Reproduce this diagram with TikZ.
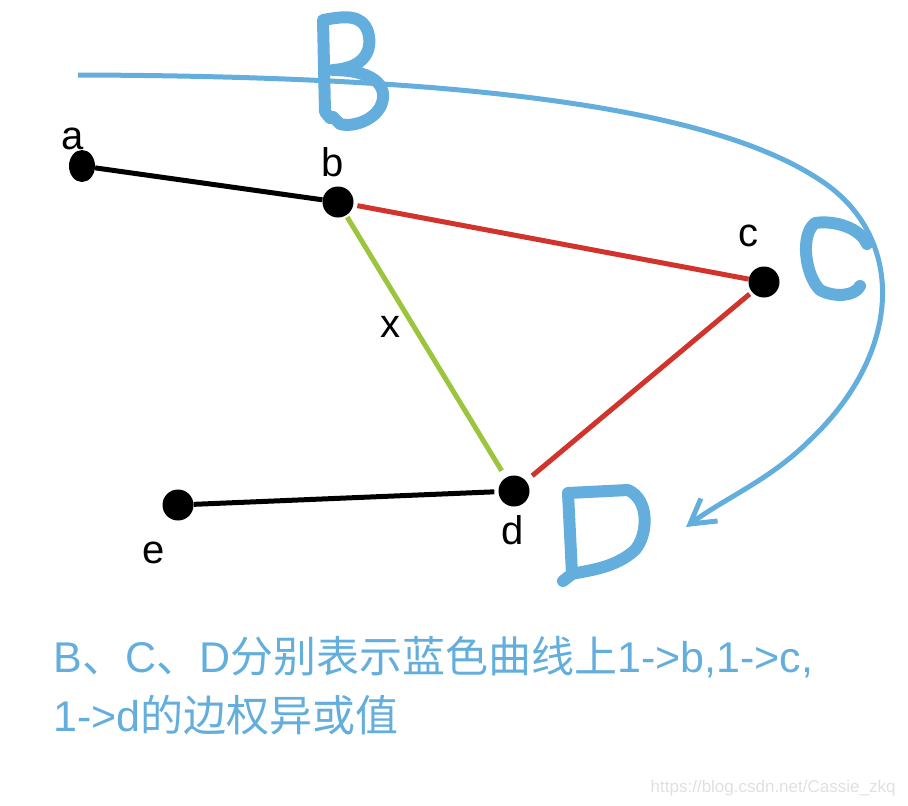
\documentclass[tikz,border=0pt]{standalone}
\usepackage{fontspec}
\setmainfont{Liberation Sans}
\newfontfamily\cjk{Noto Sans CJK SC}
\usetikzlibrary{arrows.meta,shapes.geometric}
\definecolor{inkblue}{RGB}{99,174,220}
\definecolor{edgered}{RGB}{208,52,44}
\definecolor{edgegreen}{RGB}{155,197,61}

\begin{document}
\begin{tikzpicture}[x=1pt, y=-1pt,
  vtx/.style={circle, fill=black, minimum size=31pt, inner sep=0pt},
  lbl/.style={font=\fontsize{40}{40}\selectfont},
  edge/.style={line width=5pt},
  hand/.style={draw=inkblue, line width=12pt, line cap=round, line join=round},
  curve/.style={draw=inkblue, line width=5pt, -{Straight Barb[length=24pt, width=28pt]}},
  note/.style={anchor=base west, text=inkblue, font=\fontsize{43}{43}\selectfont}
]
  \useasboundingbox (0,0) rectangle (908,806);

  % vertices
  \node[vtx, ellipse, minimum width=26pt, minimum height=32pt] (a) at (82,166) {};
  \node[vtx] (b) at (338,202) {};
  \node[vtx] (c) at (764,282) {};
  \node[vtx] (d) at (514,491) {};
  \node[vtx] (e) at (178,505) {};

  % vertex labels
  \node[lbl] (la) at (73,139) {a};
  \node[lbl] (lb) at (333,162) {b};
  \node[lbl] (lc) at (748,236) {c};
  \node[lbl] (ld) at (513,530) {d};
  \node[lbl] (le) at (154,553) {e};

  % edges
  \draw[edge] (a) -- (b);
  \draw[edge, edgered, shorten <=4pt] (b) -- (c);
  \draw[edge, edgered, shorten <=3pt, shorten >=8pt] (c) -- (d);
  \draw[edge, edgegreen, shorten <=2pt, shorten >=8pt] (b) -- (d);
  \draw[edge, shorten >=4pt] (e) -- (d);
  \node[lbl] (lx) at (390,327) {x};

  % blue curve
  \coordinate (start) at (78,75);
  \coordinate (tip) at (686,527);
  \draw[curve] (start) .. controls (420,76) and (700,100) .. (820,180)
    .. controls (905,235) and (905,350) .. (810,440)
    .. controls (770,480) and (725,498) .. (tip);

  % handwritten B, C, D
  \draw[hand] (330,118) -- (325,112) -- (323,20) .. controls (345,16) and (362,14) .. (368,32)
    .. controls (373,50) and (365,68) .. (333,70)
    .. controls (360,70) and (385,78) .. (383,98)
    .. controls (381,118) and (355,128) .. (340,124) -- (333,117);
  \draw[hand] (867,244) .. controls (860,228) and (835,220) .. (815,223)
    .. controls (800,235) and (805,275) .. (820,290)
    .. controls (835,298) and (855,296) .. (860,286);
  \draw[hand] (563,581) -- (572,574) -- (568,493) -- (628,490)
    .. controls (650,500) and (648,535) .. (635,550)
    .. controls (615,568) and (590,570) .. (572,574);

  % note
  \node[note] (line1) at (50,672) {B{\cjk 、}C{\cjk 、}D{\cjk 分别表示蓝色曲线上}1->b,1->c,};
  \node[note] (line2) at (50,731) {1->d{\cjk 的边权异或值}};

  % watermark
  \node[anchor=base east, text=black!12, font=\fontsize{17}{17}\selectfont] (mark)
    at (899,792) {https://blog.csdn.net/Cassie\_zkq};
\end{tikzpicture}
\end{document}
